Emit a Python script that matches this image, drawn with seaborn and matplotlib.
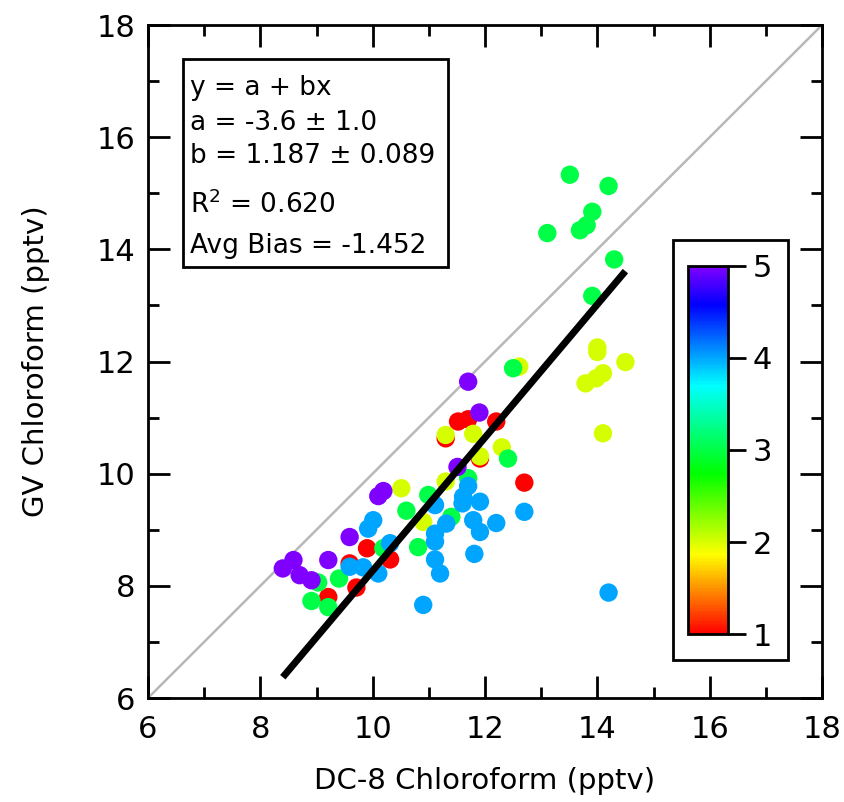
import numpy as np
import pandas as pd
import matplotlib
matplotlib.use("Agg")
import matplotlib.pyplot as plt
import seaborn as sns
from matplotlib.colors import LinearSegmentedColormap, Normalize
from matplotlib.cm import ScalarMappable
from matplotlib.patches import Rectangle
from matplotlib.ticker import MultipleLocator

# PART 1: DATA

# DC-8 chloroform (x), GV chloroform (y), and the colour flag (1..5), grouped by flag
dc8_flag1 = [11.52, 11.70, 12.20, 11.30, 11.91, 12.70, 9.90, 10.31, 9.59, 9.71, 9.21]
gv_flag1 = [10.93, 10.97, 10.93, 10.63, 10.27, 9.84, 8.67, 8.47, 8.40, 7.97, 7.80]

dc8_flag2 = [12.61, 11.30, 11.79, 12.30, 11.91, 11.30, 10.51, 10.90, 14.00, 14.00,
             14.50, 14.10, 13.98, 13.79, 14.10]
gv_flag2 = [11.91, 10.69, 10.71, 10.47, 10.31, 9.86, 9.74, 9.14, 12.25, 12.17,
            11.99, 11.79, 11.70, 11.61, 10.72]

dc8_flag3 = [12.50, 12.41, 11.70, 10.99, 10.60, 11.40, 10.19, 10.81, 9.03, 9.40,
             8.91, 9.21, 13.51, 14.20, 13.91, 13.81, 13.69, 13.11, 14.30, 13.91]
gv_flag3 = [11.88, 10.27, 9.92, 9.62, 9.34, 9.23, 8.67, 8.69, 8.06, 8.13,
            7.73, 7.62, 15.33, 15.13, 14.67, 14.43, 14.34, 14.29, 13.82, 13.17]

dc8_flag4 = [11.70, 11.61, 11.91, 11.60, 12.70, 11.11, 11.31, 11.79, 11.91, 12.20,
             11.11, 11.11, 10.01, 9.92, 10.31, 11.11, 11.20, 11.81, 9.59, 9.83,
             10.10, 10.90, 14.20]
gv_flag4 = [9.78, 9.59, 9.50, 9.47, 9.32, 9.44, 9.11, 9.17, 8.96, 9.12,
            8.93, 8.79, 9.17, 9.02, 8.76, 8.47, 8.22, 8.57, 8.34, 8.33,
            8.22, 7.66, 7.88]

dc8_flag5 = [11.70, 11.90, 11.51, 10.19, 10.10, 9.59, 9.21, 8.59, 8.40, 8.70, 8.91]
gv_flag5 = [11.64, 11.09, 10.12, 9.69, 9.60, 8.87, 8.46, 8.46, 8.31, 8.19, 8.10]

# Fit results shown in the box
fit_a = -3.6
fit_a_err = 1.0
fit_b = 1.187
fit_b_err = 0.089
fit_r2 = 0.620
avg_bias = -1.452

axis_ticks = [6, 8, 10, 12, 14, 16, 18]
cbar_ticks = [1, 2, 3, 4, 5]

# Build one table from the groups
frames = []
for flag, xs, ys in [(1, dc8_flag1, gv_flag1), (2, dc8_flag2, gv_flag2),
                     (3, dc8_flag3, gv_flag3), (4, dc8_flag4, gv_flag4),
                     (5, dc8_flag5, gv_flag5)]:
    frames.append(pd.DataFrame({'dc8': xs, 'gv': ys, 'flag': flag}))
df = pd.concat(frames, ignore_index=True)

# Rainbow colour table like the one in the reference (red -> purple)
rainbow = LinearSegmentedColormap.from_list(
    'rainbow_igor',
    [(0.0, '#ff0000'), (0.215, '#ffff00'), (0.435, '#00ff00'),
     (0.675, '#00ffff'), (0.895, '#0000ff'), (1.0, '#8000ff')])
norm = Normalize(1, 5)

# PART 2: STYLE AND FIGURE

sns.set_style("ticks")
plt.rcParams['font.family'] = ['DejaVu Sans']
plt.rcParams['mathtext.default'] = 'regular'
plt.rcParams['text.color'] = 'black'
plt.rcParams['axes.labelcolor'] = 'black'
plt.rcParams['xtick.color'] = 'black'
plt.rcParams['ytick.color'] = 'black'

W, H = 844, 802
fig = plt.figure(figsize=(W / 100, H / 100), dpi=100)
ax = fig.add_axes([148 / W, 1 - 698 / H, 674 / W, 673 / H])

# 1:1 line
ax.plot([6, 18], [6, 18], color='#b8b8b8', linewidth=1.8, zorder=1)

# Scatter points coloured by flag
sns.scatterplot(data=df, x='dc8', y='gv', hue='flag', palette=rainbow, hue_norm=norm,
                s=175, linewidth=0, legend=False, ax=ax, zorder=3)

# Fit line over the data range
xfit = np.array([df['dc8'].min(), df['dc8'].max()])
ax.plot(xfit, fit_a + fit_b * xfit, color='black', linewidth=5, zorder=4,
        solid_capstyle='butt')

ax.set_xlim(6, 18)
ax.set_ylim(6, 18)
ax.set_xticks(axis_ticks)
ax.set_yticks(axis_ticks)
ax.xaxis.set_minor_locator(MultipleLocator(1))
ax.yaxis.set_minor_locator(MultipleLocator(1))
ax.tick_params(which='both', direction='in', top=True, right=True, width=2, color='black')
ax.tick_params(which='major', length=16, labelsize=22)
ax.tick_params(which='minor', length=8)
ax.tick_params(axis='x', pad=12)
ax.tick_params(axis='y', pad=9)
for sp in ax.spines.values():
    sp.set_linewidth(2)
    sp.set_color('black')

ax.set_xlabel('DC-8 Chloroform (pptv)', fontsize=21)
ax.set_ylabel('GV Chloroform (pptv)', fontsize=21)
ax.xaxis.set_label_coords(0.5, -0.103)
ax.yaxis.set_label_coords(-0.145, 0.5)

# PART 3: FIT TEXT BOX


def fx(px):
    return px / W


def fy(py):
    return 1 - py / H


ax.add_patch(Rectangle((fx(183), fy(267)), fx(448) - fx(183), fy(59) - fy(267),
                       transform=fig.transFigure, facecolor='white', edgecolor='black',
                       linewidth=2, zorder=5, clip_on=False))
box_lines = [
    ('y = a + bx', 95),
    ('a = %.1f ± %.1f' % (fit_a, fit_a_err), 130),
    ('b = %.3f ± %.3f' % (fit_b, fit_b_err), 163),
    ('R$^{2}$ = %.3f' % fit_r2, 213),
    ('Avg Bias = %.3f' % avg_bias, 253),
]
for txt, base in box_lines:
    fig.text(fx(190), fy(base), txt, fontsize=19, va='baseline', ha='left', zorder=6)

# PART 4: COLOUR SCALE INSET

ax.add_patch(Rectangle((fx(673), fy(660)), fx(788) - fx(673), fy(240) - fy(660),
                       transform=fig.transFigure, facecolor='white', edgecolor='black',
                       linewidth=2, zorder=5, clip_on=False))
cax = fig.add_axes([688 / W, 1 - 634 / H, 40 / W, 368 / H])
cb = fig.colorbar(ScalarMappable(norm=norm, cmap=rainbow), cax=cax)
cb.set_ticks(cbar_ticks)
cb.outline.set_linewidth(2)
cb.outline.set_edgecolor('black')
cax.tick_params(direction='out', length=13, width=2, labelsize=22, pad=5, colors='black')

# PART 5: SAVE

plt.savefig('out.png', dpi=100)
